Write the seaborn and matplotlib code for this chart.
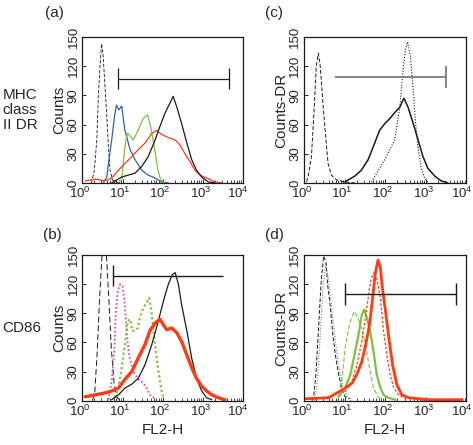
import numpy as np
import seaborn as sns
import matplotlib.pyplot as plt
from matplotlib.ticker import LogLocator, NullFormatter
from matplotlib.transforms import ScaledTranslation

# FL2-H values are stored as log10 decades, counts as read from the histograms
# ---- panel (a): MHC class II DR ----
a_iso_log = [0.23, 0.30, 0.36, 0.40, 0.44, 0.48, 0.52, 0.56, 0.61, 0.65, 0.69, 0.75, 0.90]
a_iso_cnt = [0, 13, 44, 89, 120, 143, 130, 102, 68, 37, 13, 3, 0]
a_blue_log = [0.52, 0.61, 0.65, 0.73, 0.80, 0.85, 0.91, 0.98, 1.02, 1.06, 1.19, 1.31, 1.48, 1.64, 1.81, 1.97, 2.14]
a_blue_cnt = [0, 6, 20, 44, 68, 80, 75, 79, 66, 54, 34, 24, 13, 8, 5, 1, 0]
a_green_log = [0.90, 0.98, 1.03, 1.08, 1.13, 1.19, 1.27, 1.35, 1.43, 1.50, 1.56, 1.62, 1.70, 1.79, 1.88, 1.95, 2.05]
a_green_cnt = [0, 3, 25, 44, 51, 48, 44, 51, 58, 65, 68, 70, 58, 37, 13, 3, 0]
a_red_log = [0.07, 0.32, 0.56, 0.73, 0.90, 1.06, 1.23, 1.39, 1.56, 1.73, 1.85, 1.93, 2.06, 2.18, 2.31, 2.43,
             2.55, 2.68, 2.80, 2.93, 3.09, 3.30, 3.47]
a_red_cnt = [2, 4, 2, 5, 13, 20, 27, 34, 41, 51, 54, 51, 48, 46, 44, 39, 30, 22, 13, 8, 5, 1, 0]
a_black_log = [0.73, 0.98, 1.14, 1.31, 1.48, 1.64, 1.81, 1.93, 2.06, 2.18, 2.26, 2.35, 2.47, 2.60, 2.72,
               2.84, 2.97, 3.13, 3.30]
a_black_cnt = [0, 6, 8, 10, 17, 27, 44, 58, 72, 82, 89, 78, 61, 41, 24, 13, 6, 1, 0]
a_gate = [0.88, 3.65, 107]

# ---- panel (b): CD86 ----
b_iso_log = [0.25, 0.31, 0.37, 0.43, 0.49, 0.54, 0.60, 0.66, 0.72, 0.79, 0.85, 0.95]
b_iso_cnt = [0, 8, 50, 105, 150, 160, 150, 105, 55, 18, 4, 0]
b_pink_log = [0.65, 0.73, 0.80, 0.83, 0.88, 0.94, 1.00, 1.05, 1.10, 1.16, 1.27, 1.39, 1.52, 1.60, 1.68, 1.81]
b_pink_cnt = [1, 20, 54, 89, 113, 120, 118, 103, 72, 47, 30, 22, 18, 13, 6, 2]
b_green_log = [0.81, 0.90, 0.98, 1.06, 1.13, 1.19, 1.24, 1.31, 1.38, 1.43, 1.52, 1.60, 1.66, 1.71, 1.77,
               1.85, 1.93, 1.99, 2.06]
b_green_cnt = [3, 13, 34, 58, 82, 84, 72, 72, 75, 85, 96, 101, 106, 96, 72, 44, 20, 6, 2]
b_red_log = [0.07, 0.32, 0.56, 0.73, 0.90, 1.06, 1.23, 1.39, 1.56, 1.68, 1.81, 1.93, 2.02, 2.10, 2.22, 2.35,
             2.47, 2.60, 2.72, 2.84, 2.97, 3.09, 3.22, 3.38, 3.55]
b_red_cnt = [4, 6, 8, 10, 13, 22, 30, 44, 58, 72, 80, 84, 78, 73, 75, 70, 61, 47, 34, 23, 15, 10, 6, 3, 1]
b_black_log = [0.73, 0.90, 1.06, 1.23, 1.39, 1.56, 1.73, 1.89, 2.02, 2.14, 2.24, 2.31, 2.39, 2.47, 2.60,
               2.72, 2.84, 2.97, 3.09, 3.22]
b_black_cnt = [1, 6, 13, 17, 23, 37, 58, 82, 103, 120, 130, 132, 120, 99, 72, 44, 23, 10, 3, 1]
b_gate = [0.76, 3.51, 128.7]

# ---- panel (c): Counts-DR ----
c_iso_log = [0.06, 0.10, 0.18, 0.25, 0.30, 0.35, 0.39, 0.43, 0.47, 0.53, 0.59, 0.67, 0.80, 1.00, 1.25]
c_iso_cnt = [1, 7, 27, 78, 120, 133, 123, 102, 78, 48, 20, 8, 3, 1, 0]
c_solid_log = [1.00, 1.25, 1.41, 1.58, 1.74, 1.86, 1.99, 2.11, 2.23, 2.36, 2.46, 2.56, 2.69, 2.81, 2.93,
               3.05, 3.22, 3.38, 3.55]
c_solid_cnt = [1, 7, 13, 24, 41, 54, 61, 66, 72, 78, 87, 78, 61, 44, 27, 15, 7, 2, 0]
c_dot_log = [1.66, 1.99, 2.23, 2.36, 2.44, 2.50, 2.55, 2.62, 2.68, 2.74, 2.81, 2.89, 2.97, 3.05]
c_dot_cnt = [1, 24, 44, 78, 116, 137, 145, 130, 100, 65, 35, 15, 5, 1]
c_gate = [0.755, 3.5, 109]

# ---- panel (d): Counts-DR ----
d_iso_log = [0.19, 0.23, 0.29, 0.35, 0.42, 0.48, 0.54, 0.58, 0.64, 0.70, 0.77, 0.85, 0.93, 1.01, 1.14]
d_iso_cnt = [0, 3, 27, 71, 123, 149, 143, 119, 99, 71, 47, 27, 13, 4, 2]
d_iso2_log = [0.25, 0.33, 0.40, 0.47, 0.53, 0.60, 0.68, 0.76, 0.85, 0.95, 1.05, 1.15]
d_iso2_cnt = [0, 20, 70, 120, 140, 125, 95, 65, 35, 15, 5, 0]
d_gdash_log = [0.85, 0.93, 1.01, 1.08, 1.16, 1.24, 1.33, 1.41, 1.51, 1.61, 1.71, 1.82, 1.92]
d_gdash_cnt = [6, 20, 54, 71, 85, 92, 85, 75, 58, 34, 13, 4, 1]
d_gsolid_log = [0.85, 1.01, 1.14, 1.24, 1.34, 1.42, 1.48, 1.55, 1.63, 1.71, 1.79, 1.88, 1.96, 2.08, 2.25]
d_gsolid_cnt = [4, 13, 27, 47, 68, 88, 94, 85, 71, 51, 27, 13, 6, 3, 1]
d_rdash_log = [1.01, 1.18, 1.30, 1.42, 1.52, 1.61, 1.67, 1.74, 1.79, 1.88, 1.96, 2.04, 2.12, 2.21, 2.33, 2.49]
d_rdash_cnt = [9, 20, 37, 61, 88, 116, 128, 133, 126, 106, 71, 47, 27, 13, 6, 2]
d_rsolid_log = [0.03, 0.60, 0.85, 1.01, 1.18, 1.30, 1.42, 1.52, 1.61, 1.69, 1.75, 1.82, 1.88, 1.93, 2.02,
                2.10, 2.18, 2.29, 2.41, 2.58, 3.07, 3.90]
d_rsolid_cnt = [2, 3, 9, 13, 18, 27, 40, 58, 78, 106, 130, 145, 137, 116, 88, 61, 37, 16, 6, 3, 1, 1]
d_gate = [1.0, 3.75, 110]

y_ticks = [0, 30, 60, 90, 120, 150]

BLACK = "#1a1a1a"
BLUE = "#3062b0"
GREEN = "#80c040"
RED = "#ff3b14"
PINK = "#e8508f"
GREY = "#808080"

sns.set_style("ticks")
plt.rcParams["font.family"] = ["Liberation Sans", "DejaVu Sans"]
plt.rcParams["mathtext.default"] = "regular"
plt.rcParams["axes.linewidth"] = 0.9

fig = plt.figure(figsize=(4.73, 4.45), dpi=100)
ax_a = fig.add_axes([0.174, 0.589, 0.340, 0.328])
ax_c = fig.add_axes([0.643, 0.589, 0.343, 0.328])
ax_b = fig.add_axes([0.174, 0.0996, 0.340, 0.327])
ax_d = fig.add_axes([0.643, 0.0996, 0.343, 0.327])


def curve(ax, logs, cnts, color, ls="-", lw=0.9):
    sns.lineplot(x=np.power(10.0, logs), y=cnts, ax=ax, color=color,
                 linestyle=ls, linewidth=lw, sort=True, estimator=None)


def gate(ax, g, left_tick=True, right_tick=True, color=BLACK, lw=0.9):
    lo, hi, lev = g
    ax.hlines(lev, 10 ** lo, 10 ** hi, color=color, linewidth=lw)
    h = 11
    if left_tick:
        ax.vlines(10 ** lo, lev - h, lev + h, color=color, linewidth=lw)
    if right_tick:
        ax.vlines(10 ** hi, lev - h, lev + h, color=color, linewidth=lw)


def style(ax, ylabel, xlabel=None):
    ax.set_xscale("log")
    ax.set_xlim(1, 1e4)
    ax.set_ylim(0, 150)
    ax.set_yticks(y_ticks)
    ax.xaxis.set_major_locator(LogLocator(base=10, numticks=5))
    ax.xaxis.set_minor_locator(LogLocator(base=10, subs=np.arange(2, 10), numticks=10))
    ax.xaxis.set_minor_formatter(NullFormatter())
    ax.tick_params(axis="both", which="major", direction="in", length=3, width=0.7,
                   labelsize=9.5, pad=2)
    ax.tick_params(axis="x", which="minor", direction="in", length=2, width=0.6)
    ax.tick_params(axis="y", labelrotation=90)
    for lab in ax.get_yticklabels():
        lab.set_va("center")
    ax.set_ylabel(ylabel, fontsize=11, labelpad=1)
    if xlabel:
        ax.set_xlabel(xlabel, fontsize=11, labelpad=3)
    else:
        ax.set_xlabel("")
    for sp in ax.spines.values():
        sp.set_visible(True)
        sp.set_color(BLACK)


def nudge_labels(ax):
    # decade labels sit a little left of their ticks; 10^4 kept inside the edge
    fig.canvas.draw()
    for t in ax.xaxis.get_major_ticks():
        dx = -5 if np.isclose(t.get_loc(), 1e4) else -2.5
        lab = t.label1
        lab.set_transform(lab.get_transform() + ScaledTranslation(dx / 100, 0, fig.dpi_scale_trans))


# (a)
curve(ax_a, a_iso_log, a_iso_cnt, BLACK, ls=(0, (4, 2)), lw=0.6)
curve(ax_a, a_blue_log, a_blue_cnt, BLUE)
curve(ax_a, a_green_log, a_green_cnt, GREEN)
curve(ax_a, a_red_log, a_red_cnt, RED)
curve(ax_a, a_black_log, a_black_cnt, BLACK)
gate(ax_a, a_gate)
style(ax_a, "Counts")

# (c)
curve(ax_c, c_iso_log, c_iso_cnt, BLACK, ls=(0, (4, 2)), lw=0.7)
curve(ax_c, c_solid_log, c_solid_cnt, BLACK, lw=1.1)
curve(ax_c, c_dot_log, c_dot_cnt, BLACK, ls=(0, (1, 1.5)), lw=0.8)
gate(ax_c, c_gate, left_tick=False, color="#707070", lw=1.2)
style(ax_c, "Counts-DR")

# (b)
curve(ax_b, b_iso_log, b_iso_cnt, BLACK, ls=(0, (6, 3)), lw=0.7)
curve(ax_b, b_pink_log, b_pink_cnt, PINK, ls=(0, (1, 1.2)), lw=1.3)
curve(ax_b, b_green_log, b_green_cnt, GREEN, ls=(0, (1, 1.2)), lw=1.6)
curve(ax_b, b_black_log, b_black_cnt, BLACK, lw=0.9)
curve(ax_b, b_red_log, b_red_cnt, RED, lw=2.4)
gate(ax_b, b_gate, right_tick=False, lw=1.0)
style(ax_b, "Counts", "FL2-H")

# (d)
curve(ax_d, d_iso_log, d_iso_cnt, BLACK, ls=(0, (4, 2)), lw=0.7)
curve(ax_d, d_iso2_log, d_iso2_cnt, GREY, ls=(0, (1, 1.5)), lw=0.8)
curve(ax_d, d_gdash_log, d_gdash_cnt, GREEN, ls=(0, (4, 2)), lw=0.8)
curve(ax_d, d_gsolid_log, d_gsolid_cnt, GREEN, lw=1.6)
curve(ax_d, d_rdash_log, d_rdash_cnt, RED, ls=(0, (2, 1.5)), lw=0.9)
curve(ax_d, d_rsolid_log, d_rsolid_cnt, RED, lw=2.0)
gate(ax_d, d_gate, lw=1.0)
style(ax_d, "Counts-DR", "FL2-H")

for ax in (ax_a, ax_b, ax_c, ax_d):
    nudge_labels(ax)

# panel letters and row labels
fig.text(45 / 473, 1 - 13 / 445, "(a)", fontsize=11, va="center")
fig.text(265 / 473, 1 - 13 / 445, "(c)", fontsize=11, va="center")
fig.text(43 / 473, 1 - 235 / 445, "(b)", fontsize=11, va="center")
fig.text(265 / 473, 1 - 235 / 445, "(d)", fontsize=11, va="center")
fig.text(20 / 473, 1 - 110 / 445, "MHC\nclass\nII DR", fontsize=11, ha="center", va="center",
         linespacing=1.05)
fig.text(22 / 473, 1 - 328 / 445, "CD86", fontsize=11, ha="center", va="center")

fig.savefig("out.png", dpi=100, facecolor="white")
